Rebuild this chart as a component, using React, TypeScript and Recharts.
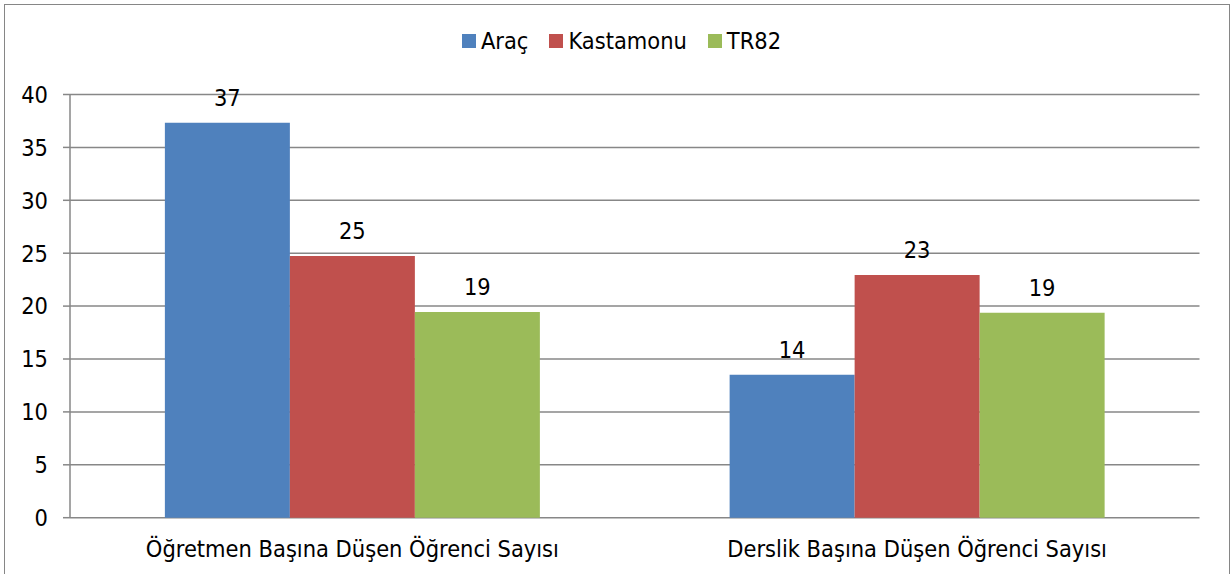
import React from "react";
import { BarChart, Bar, XAxis, YAxis, CartesianGrid, Legend, LabelList } from "recharts";

const categories = ["Öğretmen Başına Düşen Öğrenci Sayısı", "Derslik Başına Düşen Öğrenci Sayısı"];
const aracValues = [37.33, 13.52];
const kastamonuValues = [24.73, 22.94];
const tr82Values = [19.44, 19.38];
const yTicks = [0, 5, 10, 15, 20, 25, 30, 35, 40];
const seriesNames = ["Araç", "Kastamonu", "TR82"];
const seriesColors = ["#4F81BD", "#C0504D", "#9BBB59"];

const data = categories.map((c, i) => ({
  name: c,
  idx: i + 0.5,
  a: aracValues[i],
  k: kastamonuValues[i],
  t: tr82Values[i],
}));

const FONT = "'DejaVu Sans Condensed', 'DejaVu Sans', sans-serif";
const FS = 23.4;
const GRAY = "#878787";

const LegendContent = () => (
  <div style={{ display: "flex", justifyContent: "center", alignItems: "center", fontFamily: FONT, fontSize: FS, color: "#000" }}>
    {seriesNames.map((n, i) => (
      <div key={n} style={{ display: "flex", alignItems: "center", marginRight: i < seriesNames.length - 1 ? 21 : 0 }}>
        <span style={{ display: "inline-block", width: 14, height: 14, background: seriesColors[i], marginRight: 5 }} />
        <span>{n}</span>
      </div>
    ))}
  </div>
);

const fmt = (v: any) => Math.round(Number(v)).toString();

export default function App() {
  return (
    <div style={{ position: "absolute", left: 0, top: 0, width: 1231, height: 574, background: "#fff" }}>
      <BarChart
        width={1231}
        height={574}
        data={data}
        margin={{ top: 94.5, right: 31.5, bottom: 0, left: 0 }}
        barCategoryGap="16.8%"
        barGap={0}
      >
        <CartesianGrid horizontal vertical={false} stroke={GRAY} strokeWidth={1.5} />
        <XAxis
          xAxisId="b"
          dataKey="idx"
          type="number"
          domain={[0, 2]}
          ticks={[0, 1, 2]}
          height={0}
          tickSize={8}
          tickFormatter={() => ""}
          axisLine={{ stroke: GRAY, strokeWidth: 1.5 }}
          tickLine={{ stroke: GRAY, strokeWidth: 1.5 }}
        />
        <XAxis
          xAxisId="c"
          dataKey="name"
          height={56.3}
          axisLine={false}
          tickLine={false}
          tickSize={0}
          tickMargin={23}
          tick={{ fill: "#000", fontSize: FS, fontFamily: FONT }}
        />
        <YAxis
          domain={[0, 40]}
          ticks={yTicks}
          width={70}
          tickSize={7}
          tickMargin={15}
          axisLine={{ stroke: GRAY, strokeWidth: 1.5 }}
          tickLine={{ stroke: GRAY, strokeWidth: 1.5 }}
          tick={{ fill: "#000", fontSize: FS, fontFamily: FONT }}
          interval={0}
        />
        <Legend verticalAlign="middle" wrapperStyle={{ top: 27, left: 6, width: 1231 }} content={<LegendContent />} />
        <Bar xAxisId="c" dataKey="a" name={seriesNames[0]} fill={seriesColors[0]} isAnimationActive={false}>
          <LabelList dataKey="a" position="top" offset={17} formatter={fmt} style={{ fill: "#000", fontSize: FS, fontFamily: FONT }} />
        </Bar>
        <Bar xAxisId="c" dataKey="k" name={seriesNames[1]} fill={seriesColors[1]} isAnimationActive={false}>
          <LabelList dataKey="k" position="top" offset={17} formatter={fmt} style={{ fill: "#000", fontSize: FS, fontFamily: FONT }} />
        </Bar>
        <Bar xAxisId="c" dataKey="t" name={seriesNames[2]} fill={seriesColors[2]} isAnimationActive={false}>
          <LabelList dataKey="t" position="top" offset={17} formatter={fmt} style={{ fill: "#000", fontSize: FS, fontFamily: FONT }} />
        </Bar>
      </BarChart>
      <div style={{ position: "absolute", left: 4, top: 4, width: 1224, height: 580, border: "1.5px solid #868686", pointerEvents: "none" }} />
    </div>
  );
}
